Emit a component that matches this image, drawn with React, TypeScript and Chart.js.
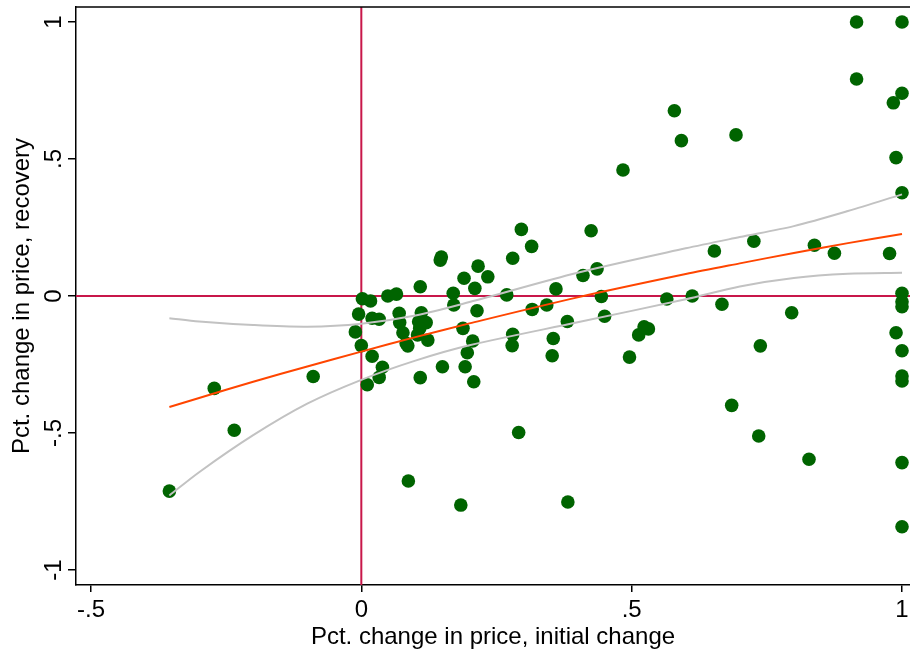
import React, { useEffect, useRef } from "react";
import { Chart, registerables } from "chart.js";

Chart.register(...registerables);

// Scatter observations: initial change (x) vs recovery (y)
const pointX = [
  -0.355, -0.272, -0.235, -0.089, 0.002, 0.017, -0.005, -0.011, 0.0, 0.02,
  0.02, 0.033, 0.039, 0.033, 0.011, 0.049, 0.065, 0.07, 0.071, 0.077,
  0.083, 0.086, 0.109, 0.111, 0.106, 0.12, 0.108, 0.104, 0.123, 0.109,
  0.146, 0.148, 0.17, 0.171, 0.19, 0.216, 0.234, 0.21, 0.214, 0.188,
  0.206, 0.196, 0.15, 0.192, 0.208, 0.28, 0.296, 0.315, 0.269, 0.316,
  0.343, 0.36, 0.381, 0.355, 0.353, 0.28, 0.279, 0.41, 0.436, 0.425,
  0.444, 0.45, 0.496, 0.513, 0.523, 0.531, 0.484, 0.579, 0.592, 0.693,
  0.565, 0.612, 0.667, 0.653, 0.726, 0.838, 0.875, 0.977, 0.796, 0.738,
  0.685, 0.735, 0.828, 0.087, 0.184, 0.382, 0.291, 0.916, 0.916, 1.0,
  1.0, 0.984, 0.989, 1.0, 1.0, 1.0, 1.0, 0.989, 1.0, 1.0,
  1.0, 1.0, 1.0,
];
const pointY = [
  -0.712, -0.337, -0.49, -0.294, -0.01, -0.018, -0.066, -0.131, -0.181, -0.22,
  -0.081, -0.085, -0.26, -0.297, -0.324, 0.0, 0.007, -0.063, -0.097, -0.134,
  -0.173, -0.182, 0.034, -0.061, -0.094, -0.097, -0.118, -0.142, -0.161, -0.298,
  0.131, 0.142, 0.01, -0.033, 0.065, 0.109, 0.07, 0.028, -0.054, -0.118,
  -0.164, -0.207, -0.258, -0.258, -0.313, 0.138, 0.243, 0.181, 0.004, -0.049,
  -0.033, 0.026, -0.093, -0.155, -0.218, -0.14, -0.181, 0.075, 0.099, 0.238,
  -0.002, -0.074, -0.223, -0.142, -0.112, -0.12, 0.46, 0.676, 0.567, 0.588,
  -0.011, 0.0, -0.03, 0.164, 0.2, 0.185, 0.156, 0.155, -0.061, -0.182,
  -0.399, -0.511, -0.596, -0.675, -0.763, -0.752, -0.498, 1.0, 0.792, 1.0,
  0.74, 0.705, 0.505, 0.377, 0.01, -0.021, -0.039, -0.134, -0.2, -0.292,
  -0.31, -0.608, -0.842,
];

// Quadratic fit line and its confidence bounds
const fitX = [-0.355, -0.3, -0.2, -0.1, 0, 0.1, 0.2, 0.4, 0.6, 0.7, 0.8, 0.9, 1.0];
const fitY = [-0.405, -0.372, -0.313, -0.257, -0.203, -0.15, -0.1, -0.005, 0.08, 0.119, 0.157, 0.193, 0.226];
const ciUpperY = [-0.081, -0.093, -0.106, -0.112, -0.101, -0.071, -0.022, 0.085, 0.174, 0.215, 0.255, 0.31, 0.371];
const ciLowerY = [-0.728, -0.643, -0.508, -0.393, -0.306, -0.236, -0.18, -0.096, -0.012, 0.035, 0.066, 0.081, 0.085];

const xTicks = [-0.5, 0, 0.5, 1];
const xTickLabels = ["-.5", "0", ".5", "1"];
const yTicks = [-1, -0.5, 0, 0.5, 1];
const yTickLabels = ["-1", "-.5", "0", ".5", "1"];
const xRange = [-0.5277, 1.0148];
const yRange = [-1.0547, 1.0547];
const refX = 0;
const refY = 0;

const xTitle = "Pct. change in price, initial change";
const yTitle = "Pct. change in price, recovery";

const FONT = "'Liberation Sans', Arial, Helvetica, sans-serif";

const refLinesPlugin = {
  id: "refLines",
  beforeDatasetsDraw(chart: any) {
    const { ctx, chartArea: a, scales } = chart;
    const px = scales.x.getPixelForValue(refX);
    const py = scales.y.getPixelForValue(refY);
    ctx.save();
    ctx.strokeStyle = "#C8174A";
    ctx.lineWidth = 2;
    ctx.beginPath();
    ctx.moveTo(px, a.top);
    ctx.lineTo(px, a.bottom);
    ctx.moveTo(a.left, py);
    ctx.lineTo(a.right, py);
    ctx.stroke();
    ctx.strokeStyle = "#000";
    ctx.lineWidth = 1.5;
    ctx.beginPath();
    ctx.moveTo(a.left, a.top);
    ctx.lineTo(a.right, a.top);
    ctx.stroke();
    ctx.restore();
  },
};

export default function App() {
  const ref = useRef<HTMLCanvasElement | null>(null);

  useEffect(() => {
    if (!ref.current) return;
    const pts = pointX.map((x, i) => ({ x, y: pointY[i] }));
    const fit = fitX.map((x, i) => ({ x, y: fitY[i] }));
    const up = fitX.map((x, i) => ({ x, y: ciUpperY[i] }));
    const lo = fitX.map((x, i) => ({ x, y: ciLowerY[i] }));

    const lineDs = (label: string, data: any[], color: string, order: number) =>
      ({
        type: "line",
        label,
        data,
        borderColor: color,
        borderWidth: 2,
        pointRadius: 0,
        tension: 0.3,
        fill: false,
        order,
      } as any);

    const chart = new Chart(ref.current, {
      type: "scatter",
      data: {
        datasets: [
          lineDs("Fitted values", fit, "#FF4500", 1),
          lineDs("CI upper", up, "#C2C2C2", 2),
          lineDs("CI lower", lo, "#C2C2C2", 2),
          {
            label: "Recovery",
            data: pts,
            backgroundColor: "#006400",
            borderWidth: 0,
            pointRadius: 6.8,
            order: 3,
          },
        ],
      },
      options: {
        responsive: false,
        animation: false,
        devicePixelRatio: 1,
        layout: { autoPadding: false, padding: { top: 7, right: 0, left: 0, bottom: 0 } },
        plugins: {
          legend: { display: false },
          tooltip: { enabled: false },
        },
        scales: {
          x: {
            type: "linear",
            min: xRange[0],
            max: xRange[1],
            afterBuildTicks: (s: any) => {
              s.ticks = xTicks.map((v) => ({ value: v }));
            },
            afterFit: (s: any) => {
              s.height = 70;
              s.paddingLeft = 0;
              s.paddingRight = 0;
            },
            border: { display: true, color: "#000", width: 1.5 },
            grid: {
              display: true,
              drawOnChartArea: false,
              drawTicks: true,
              tickLength: 7,
              color: "#000",
              lineWidth: 1.5,
            },
            ticks: {
              color: "#000",
              font: { family: FONT, size: 24, lineHeight: 1 },
              padding: 6,
              maxRotation: 0,
              minRotation: 0,
              callback: (v: any) => xTickLabels[xTicks.indexOf(Number(v))] ?? "",
            },
            title: {
              display: true,
              text: xTitle,
              color: "#000",
              font: { family: FONT, size: 24, lineHeight: 1 },
              padding: { top: 0, bottom: 6 },
            },
          },
          y: {
            type: "linear",
            min: yRange[0],
            max: yRange[1],
            afterBuildTicks: (s: any) => {
              s.ticks = yTicks.map((v) => ({ value: v }));
            },
            afterFit: (s: any) => {
              s.width = 76;
              s.paddingTop = 0;
              s.paddingBottom = 0;
            },
            border: { display: true, color: "#000", width: 1.5 },
            grid: {
              display: true,
              drawOnChartArea: false,
              drawTicks: true,
              tickLength: 8,
              color: "#000",
              lineWidth: 1.5,
            },
            ticks: {
              color: "#000",
              font: { family: FONT, size: 24, lineHeight: 1 },
              padding: 0,
              minRotation: 90,
              maxRotation: 90,
              crossAlign: "center",
              callback: (v: any) => yTickLabels[yTicks.indexOf(Number(v))] ?? "",
            },
            title: {
              display: true,
              text: yTitle,
              color: "#000",
              font: { family: FONT, size: 24, lineHeight: 1 },
              padding: { top: 10, bottom: 0 },
            },
          },
        },
      },
      plugins: [refLinesPlugin],
    } as any);
    return () => chart.destroy();
  }, []);

  return (
    <div style={{ position: "absolute", left: 0, top: 0, width: 910, height: 655, background: "#fff" }}>
      <canvas ref={ref} width={910} height={655} />
    </div>
  );
}
